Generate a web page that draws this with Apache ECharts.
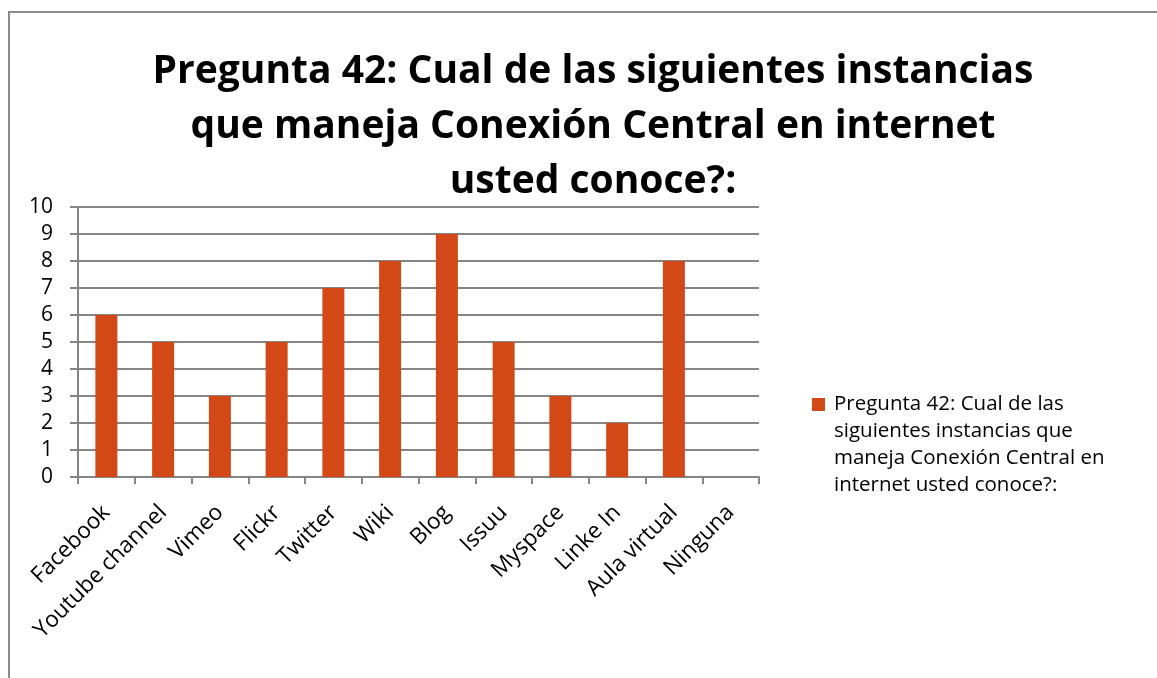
<!DOCTYPE html>
<html>
<head>
<meta charset="utf-8">
<script src="https://cdn.jsdelivr.net/npm/echarts@6/dist/echarts.min.js"></script>
<style>
  html, body { margin: 0; padding: 0; background: #fff; }
  #frame {
    position: absolute; left: 8px; top: 11px; right: -2px; bottom: -2px;
    border-left: 2px solid #8c8c8c; border-top: 2px solid #8c8c8c;
  }
  #chart { width: 1157px; height: 678px; }
</style>
</head>
<body>
<div id="frame"></div>
<div id="chart"></div>
<script>
  const titulo = 'Pregunta 42: Cual de las siguientes instancias\nque maneja Conexión Central en internet\nusted conoce?:';
  const serieNombre = 'Pregunta 42: Cual de las siguientes instancias que maneja Conexión Central en internet usted conoce?:';
  // three blank lines first so the marker sits next to the first text line
  const leyendaTexto = '\n\n\nPregunta 42: Cual de las\nsiguientes instancias que\nmaneja Conexión Central en\ninternet usted conoce?:';
  const categorias = ['Facebook', 'Youtube channel', 'Vimeo', 'Flickr', 'Twitter', 'Wiki', 'Blog', 'Issuu', 'Myspace', 'Linke In', 'Aula virtual', 'Ninguna'];
  const valores = [6, 5, 3, 5, 7, 8, 9, 5, 3, 2, 8, 0];

  const gris = '#868686';
  const fuente = '"Open Sans", "Noto Sans", sans-serif';

  const chart = echarts.init(document.getElementById('chart'));
  chart.setOption({
    animation: false,
    textStyle: {fontFamily: fuente, color: '#000'},
    title: {
      text: titulo,
      left: 588,
      textAlign: 'center',
      top: 39,
      textStyle: {fontFamily: fuente, fontSize: 39, fontWeight: 'bold', color: '#000', lineHeight: 55}
    },
    grid: {left: 78, right: 398, top: 207, bottom: 201},
    legend: {
      orient: 'vertical',
      left: 812,
      top: 310,
      padding: 0,
      itemWidth: 13,
      itemHeight: 13,
      textStyle: {fontSize: 20.5, lineHeight: 27, color: '#000', fontFamily: fuente, padding: [0, 0, 0, 4]},
      formatter() {
        return leyendaTexto;
      },
      data: [{name: serieNombre, icon: 'rect'}]
    },
    xAxis: {
      type: 'category',
      data: categorias,
      axisLine: {lineStyle: {color: gris, width: 2}},
      axisTick: {show: true, length: 7, lineStyle: {color: gris, width: 2}},
      axisLabel: {interval: 0, rotate: 45, fontSize: 22.5, color: '#000', margin: 32, fontFamily: fuente}
    },
    yAxis: {
      type: 'value',
      min: 0,
      max: 10,
      interval: 1,
      axisLine: {show: true, lineStyle: {color: gris, width: 2}},
      axisTick: {show: true, length: 8, lineStyle: {color: gris, width: 2}},
      splitLine: {lineStyle: {color: gris, width: 2}},
      axisLabel: {fontSize: 21, color: '#000', margin: 25, fontFamily: fuente}
    },
    series: [{
      name: serieNombre,
      type: 'bar',
      data: valores,
      barWidth: 22,
      itemStyle: {color: '#D34817'}
    }]
  });
</script>
</body>
</html>
